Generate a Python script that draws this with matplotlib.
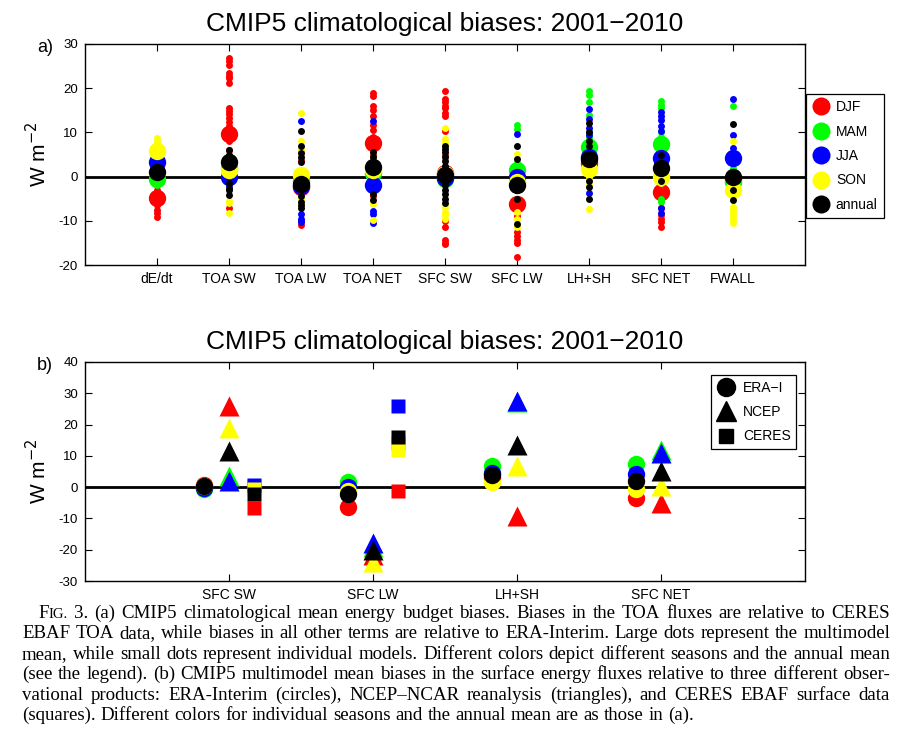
# coding=utf-8

import numpy as np
import matplotlib
matplotlib.use('Agg')
import matplotlib.pyplot as plt
from matplotlib.lines import Line2D

# ---- panel a data ----
categories_a = ['dE/dt', 'TOA SW', 'TOA LW', 'TOA NET', 'SFC SW',
                'SFC LW', 'LH+SH', 'SFC NET', 'FWALL']
seasons = ['DJF', 'MAM', 'JJA', 'SON', 'annual']
season_colors = ['red', 'lime', 'blue', 'yellow', 'black']

# multimodel means (large dots)
djf_mean = [-4.9, 9.7, -2.3, 7.5, 0.8, -6.3, 3.0, -3.4, -0.5]
mam_mean = [-0.5, 2.0, -1.0, 0.8, -0.5, 1.5, 6.8, 7.3, -1.2]
jja_mean = [3.4, 0.0, -2.2, -1.8, -0.3, 0.0, 4.5, 4.2, 4.2]
son_mean = [5.8, 1.5, 0.4, 1.5, 0.5, -1.2, 1.7, 0.0, -3.0]
ann_mean = [1.0, 3.4, -1.7, 2.1, 0.3, -2.0, 3.9, 2.0, 0.0]

# individual models (small dots), one list per category
djf_models = [
    [-6.5, -7.5, -8.3, -9.1, -3.0, -2.0],
    [26.8, 26.1, 25.3, 23.4, 22.8, 22.3, 21.1, 15.5, 14.8, 14.2, 13.2, 12.3, 11.5, 8.0, 6.0, -7.2],
    [5.7, 3.8, -3.5, -10.0, -11.0],
    [18.9, 18.3, 16.0, 15.0, 13.8, 11.7, 10.5, 9.0, 5.0, -4.5],
    [19.4, 17.5, 16.8, 16.0, 15.5, 14.5, 13.7, 10.4, 5.0, -10.0, -11.3, -14.3, -15.0, -15.3],
    [-7.5, -9.0, -12.5, -13.5, -14.3, -15.0, -18.1],
    [5.0, 7.0, 1.0],
    [-5.0, -7.0, -8.7, -9.5, -10.2, -11.3],
    [1.0, -2.0, -4.0],
]
mam_models = [
    [-1.5, 0.5, -2.0],
    [3.0, 5.0, -1.0],
    [0.0, -2.0, 1.0],
    [1.5, -0.5, 3.0],
    [-1.5, -2.0, 0.5],
    [11.7, 10.8, 3.0, 2.5],
    [19.3, 18.5, 16.8, 14.0, 10.0, 8.5, 9.0],
    [17.0, 16.2, 15.5, 10.0, 9.0, -5.8, -5.0],
    [16.0, 2.0, -1.0],
]
jja_models = [
    [4.0, 2.5, 3.0],
    [-1.0, 1.0, -2.0],
    [12.6, -3.2, -8.5, -9.5, -10.2],
    [12.6, -3.0, -7.7, -8.5, -10.5],
    [-1.0, 1.0, -0.5],
    [9.7, 1.0],
    [15.3, 13.0, 11.0, 9.5, -3.8],
    [14.7, 13.6, 12.8, 11.5, 10.3, -7.2, -8.3],
    [17.5, 9.4, 6.5, 5.0],
]
son_models = [
    [8.7, 8.0, 7.3, 6.5],
    [0.5, -5.5, -6.0, -8.3],
    [14.4, 8.1, 6.0, -5.0, -6.5],
    [4.0, -6.3, -9.8],
    [10.9, 8.5, 7.5, -6.8, -8.0, -8.8, -9.6],
    [5.2, -8.0, -9.5, -11.5],
    [0.0, -2.0, -7.3],
    [2.0, -1.5],
    [8.1, -2.0, -6.8, -7.5, -8.3, -9.0, -9.8, -10.6],
]
ann_models = [
    [1.5, 0.0, 2.0],
    [6.0, 5.0, -1.5, -2.5, -3.0, -4.2],
    [10.3, 6.9, 5.3, 4.5, 3.2, -4.5, -5.8, -6.5, -7.2],
    [5.5, 4.5, 3.5, -4.0, -5.2],
    [6.9, 6.2, 5.5, 4.5, 3.5, 2.5, -2.0, -3.0, -4.0, -5.0, -6.0],
    [6.9, 4.0, -5.0, -10.7],
    [12.1, 10.2, 8.0, 7.0, -1.0, -2.3, -5.1],
    [5.0, -1.0],
    [11.9, -3.0, -5.4],
]

# ---- panel b data ----
categories_b = ['SFC SW', 'SFC LW', 'LH+SH', 'SFC NET']
products = ['ERA\u2212I', 'NCEP', 'CERES']

era_djf = [0.8, -6.5, 3.0, -3.6]
era_mam = [-0.5, 1.8, 6.8, 7.5]
era_jja = [-0.3, 0.2, 4.5, 4.3]
era_son = [0.5, -1.2, 1.7, -0.5]
era_ann = [0.3, -2.2, 3.8, 1.9]

ncep_djf = [26.0, -21.8, -9.3, -5.0]
ncep_mam = [3.5, -19.0, 27.3, 11.8]
ncep_jja = [2.0, -17.9, 27.5, 10.9]
ncep_son = [18.8, -24.0, 6.6, 0.5]
ncep_ann = [11.6, -20.0, 13.6, 5.0]

ceres_djf = [-6.6, -1.2, np.nan, np.nan]
ceres_mam = [0.5, 14.0, np.nan, np.nan]
ceres_jja = [0.7, 26.0, np.nan, np.nan]
ceres_son = [-0.5, 12.0, np.nan, np.nan]
ceres_ann = [-2.1, 16.0, np.nan, np.nan]

caption_lines = [
    'FIG. 3. (a) CMIP5 climatological mean energy budget biases. Biases in the TOA fluxes are relative to CERES',
    'EBAF TOA data, while biases in all other terms are relative to ERA-Interim. Large dots represent the multimodel',
    'mean, while small dots represent individual models. Different colors depict different seasons and the annual mean',
    '(see the legend). (b) CMIP5 multimodel mean biases in the surface energy fluxes relative to three different obser-',
    'vational products: ERA-Interim (circles), NCEP\u2013NCAR reanalysis (triangles), and CERES EBAF surface data',
    '(squares). Different colors for individual seasons and the annual mean are as those in (a).',
]

W, H = 907, 753
SANS = 'Liberation Sans'
SERIF = 'Liberation Serif'


def style_axes(ax, ymin, ymax, xticks, xlabels):
    """matlab-like box with inward ticks"""
    ax.set_xlim(0, 10)
    ax.set_ylim(ymin, ymax)
    ax.set_xticks(xticks)
    ax.set_xticklabels(xlabels, fontsize=10, family=SANS)
    ax.set_yticks(np.arange(ymin, ymax + 1, 10))
    ax.set_yticklabels([str(v) for v in range(ymin, ymax + 1, 10)], fontsize=9.5, family=SANS)
    ax.tick_params(direction='in', length=5, width=0.8, top=True, right=True, pad=5)
    for s in ax.spines.values():
        s.set_linewidth(1.0)
    ax.axhline(0, color='black', lw=2, zorder=1)
    ax.set_ylabel('W m$^{-2}$', fontsize=15, family=SANS, labelpad=6)
    ax.set_title('CMIP5 climatological biases: 2001\u22122010', fontsize=19, family=SANS, pad=9)


def plot_panel_a(ax):
    x = np.arange(1, len(categories_a) + 1)
    means = [djf_mean, mam_mean, jja_mean, son_mean, ann_mean]
    models = [djf_models, mam_models, jja_models, son_models, ann_models]
    for k in range(5):
        for i in range(len(categories_a)):
            vals = models[k][i]
            ax.plot([x[i]] * len(vals), vals, 'o', ms=5, color=season_colors[k], mec='none', zorder=2 + k)
        ax.plot(x, means[k], 'o', ms=12.5, color=season_colors[k], mec='none', zorder=2 + k)
    style_axes(ax, -20, 30, x, categories_a)

    handles = [Line2D([], [], ls='none', marker='o', ms=13, color=c, mec='none') for c in season_colors]
    leg = ax.legend(handles, seasons, loc='upper left', bbox_to_anchor=(806 / W, 1 - 94 / H),
                    bbox_transform=ax.figure.transFigure, borderaxespad=0, fancybox=False,
                    edgecolor='black', framealpha=1, prop={'family': SANS, 'size': 10},
                    handlelength=1.2, handletextpad=0.5, labelspacing=0.75, borderpad=0.45)
    leg.get_frame().set_linewidth(0.9)


def plot_panel_b(ax):
    x = np.array([2, 4, 6, 8])
    era = [era_djf, era_mam, era_jja, era_son, era_ann]
    ncep = [ncep_djf, ncep_mam, ncep_jja, ncep_son, ncep_ann]
    ceres = [ceres_djf, ceres_mam, ceres_jja, ceres_son, ceres_ann]
    for k in range(5):
        c = season_colors[k]
        ax.plot(x - 0.35, era[k], 'o', ms=12.5, color=c, mec='none', zorder=2 + k)
        ax.plot(x, ncep[k], '^', ms=14, color=c, mec='none', zorder=2 + k)
        ax.plot(x + 0.35, ceres[k], 's', ms=10.5, color=c, mec='none', zorder=2 + k)
    style_axes(ax, -30, 40, x, categories_b)

    handles = [Line2D([], [], ls='none', marker='o', ms=13, color='black'),
               Line2D([], [], ls='none', marker='^', ms=15, color='black'),
               Line2D([], [], ls='none', marker='s', ms=10, color='black')]
    leg = ax.legend(handles, products, loc='upper left', bbox_to_anchor=(711 / W, 1 - 375 / H),
                    bbox_transform=ax.figure.transFigure, borderaxespad=0, fancybox=False,
                    edgecolor='black', framealpha=1, prop={'family': SANS, 'size': 10},
                    handlelength=1.4, handletextpad=0.5, labelspacing=0.75, borderpad=0.4)
    leg.get_frame().set_linewidth(0.9)


def draw_caption(fig):
    """justified caption, word by word"""
    size = 13.6
    renderer = fig.canvas.get_renderer()

    def width(s, fs):
        t = fig.text(0, 0, s, fontsize=fs, family=SERIF)
        w = t.get_window_extent(renderer).width
        t.remove()
        return w

    right = 890
    space = width('a a', size) - 2 * width('a', size)
    for n, line in enumerate(caption_lines):
        words = line.split(' ')
        left = 38 if n == 0 else 22
        base = 618 + 20.4 * n
        pieces = []
        for w in words:
            if w == 'FIG.':
                pieces.append([('F', size), ('IG.', size * 0.78)])
            else:
                pieces.append([(w, size)])
        widths = [sum(width(s, fs) for s, fs in p) for p in pieces]
        if n < len(caption_lines) - 1:
            gap = (right - left - sum(widths)) / (len(words) - 1)
        else:
            gap = space
        xpos = left
        for p, pw in zip(pieces, widths):
            xx = xpos
            for s, fs in p:
                fig.text(xx / W, 1 - base / H, s, fontsize=fs, family=SERIF, va='baseline')
                xx += width(s, fs)
            xpos += pw + gap


def main():
    fig = plt.figure(figsize=(W / 100, H / 100), dpi=100)

    ax1 = fig.add_axes([85 / W, 1 - 265 / H, 720 / W, 221 / H])
    plot_panel_a(ax1)

    ax2 = fig.add_axes([85 / W, 1 - 581 / H, 720 / W, 219 / H])
    plot_panel_b(ax2)

    fig.text(37 / W, 1 - 47 / H, 'a)', fontsize=13, family=SANS, va='center')
    fig.text(37 / W, 1 - 365 / H, 'b)', fontsize=13, family=SANS, va='center')

    draw_caption(fig)

    fig.savefig('out.png', dpi=100)


if __name__ == '__main__':
    main()
